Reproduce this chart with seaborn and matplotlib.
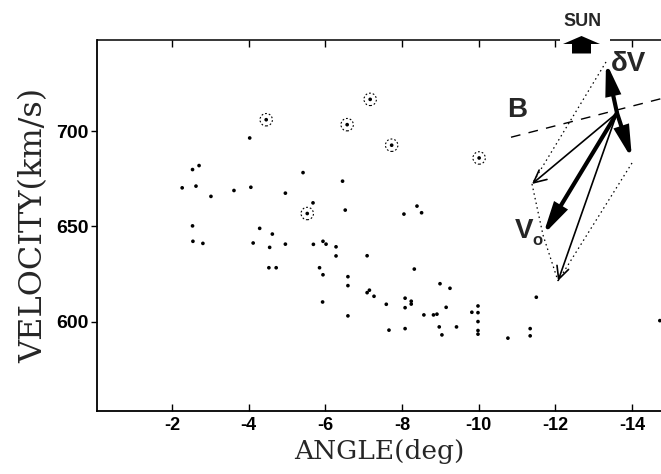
import matplotlib
matplotlib.use("Agg")
import matplotlib.pyplot as plt
import numpy as np
import pandas as pd
import seaborn as sns
from matplotlib.patches import FancyArrow

# Solar-wind flow: velocity versus flow angle
angle = [
    -4.03, -2.54, -2.71, -2.27, -2.63, -3.02, -3.62, -4.06, -4.96, -5.42,
    -6.45, -5.68, -6.52, -2.54, -4.29, -2.55, -2.81, -4.12, -4.62, -4.55,
    -4.96, -4.53, -4.72, -5.69, -5.94, -6.02, -6.28, -6.28, -5.85, -5.94,
    -5.93, -6.59, -6.59, -6.59, -7.09, -7.09, -7.15, -7.27, -7.59, -7.66,
    -8.39, -8.05, -8.51, -8.32, -8.99, -9.25, -8.08, -8.08, -8.24, -8.24,
    -8.57, -8.82, -8.91, -9.15, -8.08, -8.97, -9.04, -9.42, -9.82, -9.98,
    -9.98, -9.98, -9.98, -9.98, -10.76, -11.34, -11.34, -11.50, -14.72,
]
velocity = [
    696.5, 679.9, 682.0, 670.3, 671.2, 665.8, 668.9, 670.6, 667.5, 678.3,
    673.8, 662.4, 658.6, 650.3, 649.0, 642.2, 641.1, 641.3, 646.0, 639.0,
    640.7, 628.3, 628.3, 640.6, 642.2, 640.7, 639.3, 634.5, 628.3, 624.6,
    610.3, 623.6, 618.9, 603.0, 634.6, 615.2, 616.5, 613.3, 609.1, 595.5,
    660.7, 656.5, 657.2, 627.6, 619.9, 617.5, 612.3, 607.3, 610.7, 609.2,
    603.5, 603.5, 603.9, 607.5, 596.3, 597.2, 593.0, 597.2, 604.9, 608.2,
    604.7, 600.0, 595.3, 593.4, 591.3, 596.3, 592.5, 612.8, 600.5,
]

# Samples marked with a ring
angle_marked = [-4.46, -6.57, -7.17, -7.73, -10.01, -5.53]
velocity_marked = [706.1, 703.5, 716.8, 692.7, 686.0, 656.8]

x_ticks = [-2, -4, -6, -8, -10, -12, -14]
x_tick_labels = ["-2", "-4", "-6", "-8", "-10", "-12", "-14"]
y_ticks = [600, 650, 700]
y_tick_labels = ["600", "650", "700"]

# Vector sketch (figure pixel units, y downward)
diag_origin = np.array([617.0, 113.0])
v0 = np.array([-74.0, 122.0])
dv_up = np.array([-11.0, -51.0])
dv_down = np.array([15.0, 46.0])
b_anchor = np.array([617.0, 110.0])
b_dir = np.array([1.0, -0.257])

sns.set_theme(style="ticks")
plt.rcParams["font.family"] = ["Liberation Sans", "DejaVu Sans"]
plt.rcParams["axes.unicode_minus"] = False

W, H = 661, 474
fig = plt.figure(figsize=(W / 100, H / 100), dpi=100)
ax = fig.add_axes([97 / W, 63 / H, 564 / W, 371 / H])

df = pd.DataFrame({"angle": angle, "velocity": velocity})
df_m = pd.DataFrame({"angle": angle_marked, "velocity": velocity_marked})

sns.scatterplot(data=df, x="angle", y="velocity", ax=ax, s=7, color="black",
                edgecolor="none", linewidth=0)
sns.scatterplot(data=df_m, x="angle", y="velocity", ax=ax, s=7, color="black",
                edgecolor="none", linewidth=0)
ax.scatter(df_m["angle"], df_m["velocity"], s=80, facecolors="none",
           edgecolors="black", linewidths=0.8, linestyles=(0, (1.6, 1.8)))

ax.set_xlim(-0.05, -14.75)
ax.set_ylim(553, 748)
ax.set_xticks(x_ticks)
ax.set_xticklabels(x_tick_labels, fontsize=13, fontweight="bold")
ax.set_yticks(y_ticks)
ax.set_yticklabels(y_tick_labels, fontsize=14, fontweight="bold")
ax.tick_params(axis="x", direction="in", top=True, length=5, width=1.0,
               pad=4, colors="black")
ax.tick_params(axis="y", direction="out", length=4, width=1.0, pad=2,
               colors="black")

ax.set_xlabel("ANGLE(deg)", family="DejaVu Serif", fontsize=19, labelpad=4)
ax.set_ylabel("VELOCITY(km/s)", family="DejaVu Serif", fontsize=23,
              labelpad=5)

for side in ("right", "top"):
    ax.spines[side].set_visible(False)
for side in ("left", "bottom"):
    ax.spines[side].set_linewidth(1.3)
    ax.spines[side].set_color("black")

# Overlay for the vector sketch
ov = fig.add_axes([0, 0, 1, 1], zorder=5)
ov.set_xlim(0, W)
ov.set_ylim(H, 0)
ov.axis("off")

# top frame line, broken around the sun marker
ov.plot([97, 560], [40, 40], color="black", lw=1.1, solid_capstyle="butt")
ov.plot([610, W + 2], [40, 40], color="black", lw=1.1, solid_capstyle="butt")

sun = FancyArrow(581.5, 53.5, 0, -17.5, width=19, head_width=37,
                 head_length=8, length_includes_head=True,
                 color="black", lw=0)
ov.add_patch(sun)
ov.text(583, 21, "SUN", ha="center", va="center", fontsize=13,
        fontweight="bold")


def arrow(start, vec, lw, style, ms):
    ov.annotate("", xy=tuple(start + vec), xytext=tuple(start),
                arrowprops=dict(arrowstyle=style, lw=lw, color="black",
                                shrinkA=0, shrinkB=0, mutation_scale=ms,
                                joinstyle="miter"))


def dotted(p, q):
    ov.plot([p[0], q[0]], [p[1], q[1]], color="black", lw=0.9,
            linestyle=(0, (1.2, 2.6)))


o = diag_origin
thick = "-|>,head_length=0.85,head_width=0.2"
thin = "->,head_length=0.45,head_width=0.22"

arrow(o, v0, 3.0, thick, 20)
arrow(o, dv_up, 3.0, thick, 20)
arrow(o, dv_down, 3.0, thick, 20)
arrow(o, v0 + dv_up, 1.2, thin, 20)
arrow(o, v0 + dv_down, 1.2, thin, 20)

dotted(o + dv_up, o + v0 + dv_up)
dotted(o + v0 + dv_up, o + v0)
dotted(o + v0, o + v0 + dv_down)
dotted(o + dv_down + np.array([0, 4]), o + v0 + dv_down)

b_ends = np.array([b_anchor + t * b_dir for t in (-106, 60)])
ov.plot(b_ends[:, 0], b_ends[:, 1], color="black", lw=1.0,
        linestyle=(0, (7, 6)))

ov.text(517, 110, "B", ha="center", va="center", fontsize=20,
        fontweight="bold")
ov.text(628, 64, "\u03b4V", ha="center", va="center", fontsize=20,
        fontweight="bold")
ov.text(524, 231, "V", ha="center", va="center", fontsize=20,
        fontweight="bold")
ov.text(537, 240, "o", ha="center", va="center", fontsize=12,
        fontweight="bold")

fig.savefig("out.png", dpi=100)
